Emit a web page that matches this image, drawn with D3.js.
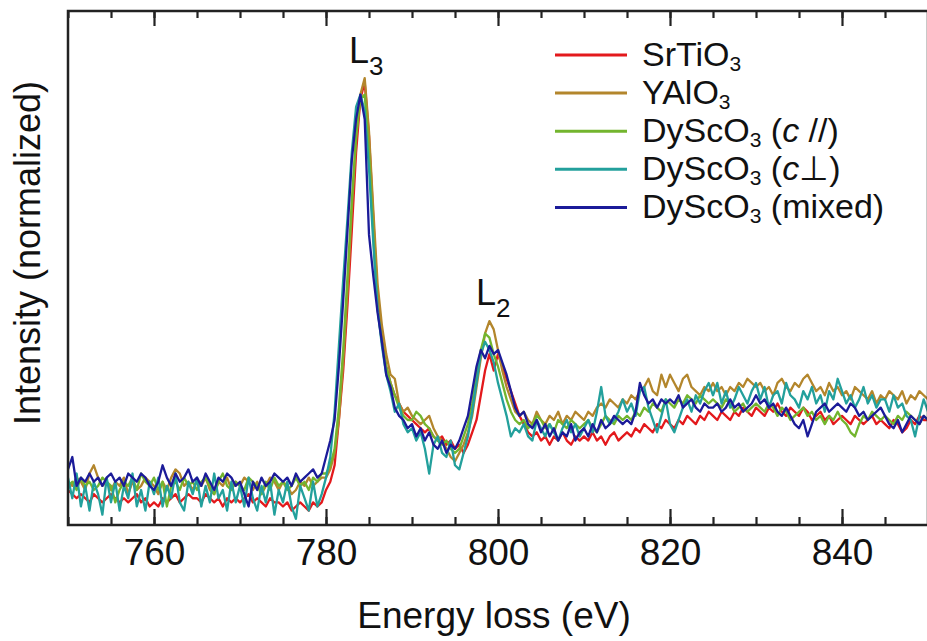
<!DOCTYPE html>
<html>
<head>
<meta charset="utf-8" />
<title>Co L2,3 edge</title>
<script src="https://d3js.org/d3.v7.min.js"></script>
<style>
  body { margin: 0; background: #fff; }
  text { font-family: "Liberation Sans", Arial, Helvetica, sans-serif; fill: #111; }
</style>
</head>
<body>
<svg id="chart" width="927" height="641"></svg>
<script>
// energy grid (eV), one point every 0.5 eV
var energy = d3.range(750, 850.01, 0.5);

// intensities, L3 peak of YAlO3 ~ 100
var srtio3 = [
  0,-1,-2,-1,-2,-3,-1,-2,-3,-2,  -1,-2,-3,-2,-3,-2,-1,-3,-2,-4,
  -3,-4,-2,-3,-2,-1,-3,-2,-1,-2,  -2,-3,-1,-2,-3,-2,-4,-2,-3,-2,
  -3,-2,-1,-3,-2,-3,-4,-2,-3,-3,  -4,-3,-5,-4,-3,-4,-5,-3,-4,-3,
  0,2,6,17,29,45,63,82,95,99,  86,66,47,37,30,26,23,21,19,18,
  17,16,15,14,15,13,12,13,11,12,  10,11,9,11,14,17,23,29,33,29,
  33,30,27,24,21,18,16,14,13,14,  12,13,11,13,12,14,12,11,13,12,
  13,12,14,12,13,11,13,14,12,13,  14,13,15,14,16,15,14,16,15,17,
  16,15,17,16,18,17,16,18,17,19,  18,17,19,18,17,19,18,20,19,18,
  20,19,18,20,19,21,19,18,20,19,  18,20,19,17,18,19,17,18,16,17,
  18,17,16,18,17,16,17,18,16,17,  16,15,17,16,14,15,17,16,18,17,
  17
];
var yalo3 = [
  2,1,3,2,0,4,6,3,1,2,  0,2,1,3,-1,2,0,1,3,2,
  1,-1,2,0,3,5,4,1,2,0,  2,1,3,0,-1,2,1,3,0,2,
  1,3,2,0,2,-1,1,3,2,0,  2,1,-1,0,2,1,3,1,2,3,
  3,5,9,17,31,48,68,85,96,100,  87,68,50,40,33,28,27,21,19,20,
  18,17,16,17,18,15,13,12,10,8,  7,9,11,14,18,25,32,38,41,39,
  34,29,25,22,19,18,19,17,16,19,  17,16,18,17,19,16,18,17,19,18,
  17,19,18,20,21,20,22,21,20,22,  21,23,22,24,25,27,24,23,28,25,
  28,26,24,27,28,25,24,23,25,24,  26,24,25,23,25,24,26,25,27,26,
  25,26,24,25,23,26,27,25,24,26,  25,27,28,26,24,25,23,26,24,25,
  23,24,22,25,24,23,22,24,21,23,  22,24,23,22,24,21,23,22,24,23,
  22
];
var dyscoPar = [
  1,2,0,3,1,2,0,1,3,2,  1,-3,0,2,1,3,0,4,2,1,
  3,0,2,-4,1,2,0,3,1,2,  0,2,3,1,-1,2,4,1,0,2,
  1,0,3,2,1,-1,2,0,3,1,  2,0,1,3,1,2,0,3,2,4,
  4,6,10,20,34,52,70,86,95,96,  82,62,44,36,30,26,23,20,18,17,
  17,19,18,16,15,13,12,11,12,10,  9,10,13,16,21,28,34,38,37,33,
  30,26,22,19,17,16,17,15,16,18,  17,15,16,14,17,16,15,17,16,15,
  16,17,15,14,16,18,17,16,18,17,  18,17,19,18,20,19,21,20,19,22,
  21,20,22,21,23,22,21,23,22,21,  22,21,20,22,21,19,20,21,19,20,
  21,20,19,21,20,18,20,19,17,18,  19,20,18,19,17,18,16,18,17,19,
  17,16,14,13,16,18,17,19,18,17,  18,17,16,18,17,19,18,17,16,18,
  17
];
var dyscoPerp = [
  3,-2,4,-4,1,-5,2,-1,-6,3,  -3,2,-5,1,-2,4,-4,0,-5,2,
  -1,3,-4,1,-2,4,-3,-5,2,-1,  3,-4,1,-3,4,-2,0,-5,2,-3,
  1,-4,3,-2,-5,1,-3,2,-6,0,  -3,2,-4,-7,1,-2,-5,2,-4,-1,
  3,8,19,35,51,66,82,93,96,92,  78,60,44,35,28,24,19,21,16,14,
  15,12,14,10,4,11,13,9,8,12,  6,5,9,13,19,26,33,36,34,31,
  26,22,18,13,15,14,16,13,12,17,  15,13,16,14,12,15,17,14,16,13,
  15,17,14,19,25,18,16,17,19,22,  19,21,18,24,25,20,17,14,18,22,
  16,14,17,20,22,19,23,21,24,26,  23,26,21,24,20,22,25,23,21,24,
  26,22,25,20,23,24,21,26,23,22,  20,24,22,25,21,23,19,24,22,27,
  24,21,23,20,22,25,21,23,20,22,  22,19,23,20,21,18,17,13,18,22,
  19
];
var dyscoMixed = [
  5,8,1,3,2,4,2,3,1,3,  4,2,3,1,4,3,2,4,3,1,
  0,2,6,3,1,4,2,3,5,2,  3,1,4,2,0,3,2,4,3,1,
  2,-1,-4,2,0,3,1,2,4,3,  2,3,1,4,2,3,4,5,3,4,
  8,12,17,30,46,63,80,90,96,90,  62,52,43,36,28,25,20,18,17,15,
  16,13,15,12,14,11,10,12,9,11,  10,12,15,18,24,30,34,32,35,33,
  34,31,28,24,20,18,19,16,15,17,  14,16,13,15,12,14,13,16,12,14,
  15,13,16,14,17,15,16,18,17,16,  17,16,19,26,23,21,22,20,22,21,
  22,21,23,20,21,22,20,19,21,20,  20,21,19,20,22,20,21,19,20,21,
  23,21,22,20,21,19,18,20,18,16,  15,17,13,16,19,20,21,19,20,21,
  20,19,21,20,18,19,17,18,19,20,  18,16,15,17,14,16,18,17,16,18,
  17
];

var seriesData = [srtio3, yalo3, dyscoPar, dyscoPerp, dyscoMixed];
var seriesColors = ["#e3191c", "#b3862c", "#73b52e", "#23a09c", "#1b1b99"];
// legend labels as [main, subscript, rest, italic part, after]
var legendLabels = [
  ["SrTiO", "3", "", "", ""],
  ["YAlO", "3", "", "", ""],
  ["DyScO", "3", " (", "c", " //)"],
  ["DyScO", "3", " (", "c", "\u22a5)"],
  ["DyScO", "3", " (mixed)", "", ""]
];
var majorTicks = [760, 780, 800, 820, 840];
var minorTicks = d3.range(750, 851, 5);

var svg = d3.select("#chart");
var pLeft = 68, pRight = 928, pTop = 11, pBottom = 525;

var x = d3.scaleLinear().domain([750, 850]).range([pLeft, pRight]);
var y = d3.scaleLinear().domain([-8.5, 116.3]).range([pBottom, pTop]);

svg.append("clipPath").attr("id", "clip")
  .append("rect").attr("x", pLeft).attr("y", pTop)
  .attr("width", pRight - pLeft).attr("height", pBottom - pTop);

// spectra
var line = d3.line()
  .x(function(d, i) { return x(energy[i]); })
  .y(function(d) { return y(d); });

svg.append("g").attr("clip-path", "url(#clip)")
  .selectAll("path")
  .data(seriesData)
  .join("path")
  .attr("d", line)
  .attr("fill", "none")
  .attr("stroke", function(d, i) { return seriesColors[i]; })
  .attr("stroke-width", 2.3)
  .attr("stroke-linejoin", "round");

// bottom axis: minor + major ticks pointing inward
svg.append("g").attr("transform", "translate(0," + pBottom + ")")
  .call(d3.axisBottom(x).tickValues(minorTicks).tickSize(-8).tickSizeOuter(0).tickFormat(""));
var bottomMajor = svg.append("g").attr("transform", "translate(0," + pBottom + ")")
  .call(d3.axisBottom(x).tickValues(majorTicks).tickSize(-16).tickSizeOuter(0).tickPadding(14));
bottomMajor.selectAll("text").style("font-size", "37px")
  .style("font-family", "'Liberation Sans', Arial, sans-serif").attr("fill", "#111");

// top axis, no labels
svg.append("g").attr("transform", "translate(0," + pTop + ")")
  .call(d3.axisTop(x).tickValues(minorTicks).tickSize(-7).tickSizeOuter(0).tickFormat(""));
svg.append("g").attr("transform", "translate(0," + pTop + ")")
  .call(d3.axisTop(x).tickValues(majorTicks).tickSize(-15).tickSizeOuter(0).tickFormat(""));

svg.selectAll(".domain").remove();
svg.selectAll(".tick line").attr("stroke", "#222").attr("stroke-width", 2.2);

// frame
svg.append("rect")
  .attr("x", pLeft).attr("y", pTop)
  .attr("width", pRight - pLeft).attr("height", pBottom - pTop)
  .attr("fill", "none").attr("stroke", "#222").attr("stroke-width", 2.5);

// axis titles
svg.append("text")
  .attr("x", 494).attr("y", 628)
  .attr("text-anchor", "middle")
  .style("font-size", "37px")
  .text("Energy loss (eV)");

svg.append("text")
  .attr("transform", "translate(40,253) rotate(-90)")
  .attr("text-anchor", "middle")
  .style("font-size", "36px")
  .text("Intensity (normalized)");

// edge labels
function edgeLabel(px, py, main, sub) {
  var t = svg.append("text").attr("x", px).attr("y", py).style("font-size", "36px");
  t.append("tspan").text(main);
  t.append("tspan").attr("dy", 12).style("font-size", "26px").text(sub);
}
edgeLabel(349, 63, "L", "3");
edgeLabel(476, 305, "L", "2");

// legend
var legend = svg.append("g");
legendLabels.forEach(function(lab, i) {
  var ly = 55 + i * 38.1;
  legend.append("line")
    .attr("x1", 555).attr("x2", 627).attr("y1", ly).attr("y2", ly)
    .attr("stroke", seriesColors[i]).attr("stroke-width", 3);
  var t = legend.append("text")
    .attr("x", 642).attr("y", ly + 11)
    .style("font-size", "34px");
  t.append("tspan").text(lab[0]);
  t.append("tspan").attr("dy", 5).style("font-size", "21px").text(lab[1]);
  if (lab[2] || lab[3] || lab[4]) {
    t.append("tspan").attr("dy", -5).text(lab[2]);
    if (lab[3]) t.append("tspan").style("font-style", "italic").text(lab[3]);
    if (lab[4]) t.append("tspan").text(lab[4]);
  }
});
</script>
</body>
</html>
